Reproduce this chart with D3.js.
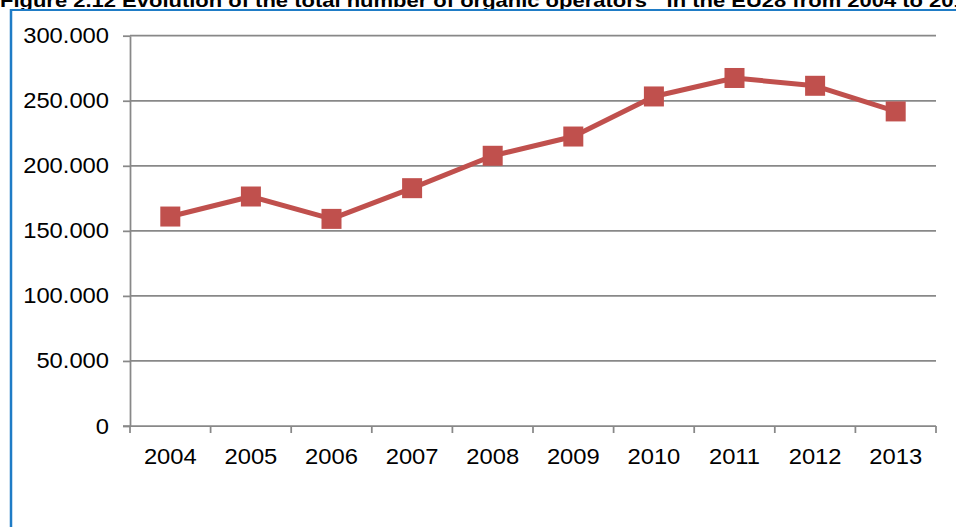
<!DOCTYPE html>
<html>
<head>
<meta charset="utf-8">
<script src="https://cdn.jsdelivr.net/npm/d3@7"></script>
<style>
  body { margin: 0; background: #fff; }
  svg { display: block; font-family: "Liberation Sans", Arial, sans-serif; }
</style>
</head>
<body>
<div id="chart"></div>
<script>
// data
var years = ["2004", "2005", "2006", "2007", "2008", "2009", "2010", "2011", "2012", "2013"];
var operators = [161000, 176400, 159200, 182800, 207700, 222500, 253300, 267500, 261500, 241800];
var yTicks = [0, 50000, 100000, 150000, 200000, 250000, 300000];
var titleStart = "Figure 2.12 Evolution of the total number of organic operators ";
var titleNote = "1";
var titleEnd = " in the EU28 from 2004 to 2013";

var width = 956, height = 527;
var margin = { top: 35.7, right: 20, bottom: 101, left: 130 };
var stretch = 1.08; // labels in the source look a bit wide

var svg = d3.select("#chart").append("svg")
    .attr("width", width)
    .attr("height", height);

// title, cut at the top like the source page
var title = svg.append("text")
    .attr("x", 0)
    .attr("y", 7)
    .style("font-weight", "bold")
    .style("font-size", "18px")
    .attr("textLength", 978)
    .attr("lengthAdjust", "spacingAndGlyphs")
    .attr("fill", "#000");
title.append("tspan").text(titleStart);
title.append("tspan").attr("dy", -9).style("font-size", "11px").text(titleNote);
title.append("tspan").attr("dy", 9).text(titleEnd);

// blue frame
svg.append("line")
    .attr("x1", 11).attr("x2", width)
    .attr("y1", 10).attr("y2", 10)
    .attr("stroke", "#1f7cc6").attr("stroke-width", 2);
svg.append("line")
    .attr("x1", 11).attr("x2", 11)
    .attr("y1", 9).attr("y2", height)
    .attr("stroke", "#1f7cc6").attr("stroke-width", 2.5);

var x = d3.scaleBand()
    .domain(years)
    .range([margin.left, width - margin.right]);

var y = d3.scaleLinear()
    .domain([0, 300000])
    .range([height - margin.bottom, margin.top]);

var fmt = function (d) { return d === 0 ? "0" : d3.format(",")(d).replace(/,/g, "."); };

// gridlines
svg.append("g")
    .selectAll("line")
    .data(yTicks.filter(function (d) { return d > 0; }))
    .join("line")
    .attr("x1", margin.left)
    .attr("x2", width - margin.right)
    .attr("y1", function (d) { return y(d); })
    .attr("y2", function (d) { return y(d); })
    .attr("stroke", "#888")
    .attr("stroke-width", 1.75);

// y axis
var yAxis = svg.append("g")
    .attr("transform", "translate(" + margin.left + ",0)")
    .call(d3.axisLeft(y).tickValues(yTicks).tickFormat(fmt).tickSize(7).tickSizeOuter(0).tickPadding(14));
yAxis.select(".domain").attr("stroke", "#888").attr("stroke-width", 1.75);
yAxis.selectAll(".tick line").attr("stroke", "#888").attr("stroke-width", 1.75);
yAxis.selectAll("text")
    .style("font-size", "22px")
    .attr("fill", "#000")
    .attr("x", -21 / stretch)
    .attr("transform", "scale(" + stretch + ",1)");

// x axis, ticks between categories
var bounds = years.map(function (d) { return x(d); }).concat([width - margin.right]);
var xAxisG = svg.append("g")
    .attr("transform", "translate(0," + y(0) + ")");
xAxisG.append("line")
    .attr("x1", margin.left - 7).attr("x2", width - margin.right)
    .attr("stroke", "#888").attr("stroke-width", 1.75);
xAxisG.selectAll(".sep")
    .data(bounds)
    .join("line")
    .attr("class", "sep")
    .attr("x1", function (d) { return d; })
    .attr("x2", function (d) { return d; })
    .attr("y1", 0).attr("y2", 7)
    .attr("stroke", "#888").attr("stroke-width", 1.75);
xAxisG.selectAll(".lbl")
    .data(years)
    .join("text")
    .attr("class", "lbl")
    .attr("x", function (d) { return (x(d) + x.bandwidth() / 2) / stretch; })
    .attr("y", 38)
    .attr("transform", "scale(" + stretch + ",1)")
    .attr("text-anchor", "middle")
    .style("font-size", "22px")
    .attr("fill", "#000")
    .text(function (d) { return d; });

// series line
var line = d3.line()
    .x(function (d, i) { return x(years[i]) + x.bandwidth() / 2; })
    .y(function (d) { return y(d); });

svg.append("path")
    .datum(operators)
    .attr("d", line)
    .attr("fill", "none")
    .attr("stroke", "#c0504d")
    .attr("stroke-width", 5)
    .attr("stroke-linejoin", "round");

// square markers
var size = 20;
svg.append("g")
    .selectAll("rect")
    .data(operators)
    .join("rect")
    .attr("x", function (d, i) { return x(years[i]) + x.bandwidth() / 2 - size / 2; })
    .attr("y", function (d) { return y(d) - size / 2; })
    .attr("width", size)
    .attr("height", size)
    .attr("fill", "#c0504d");
</script>
</body>
</html>
